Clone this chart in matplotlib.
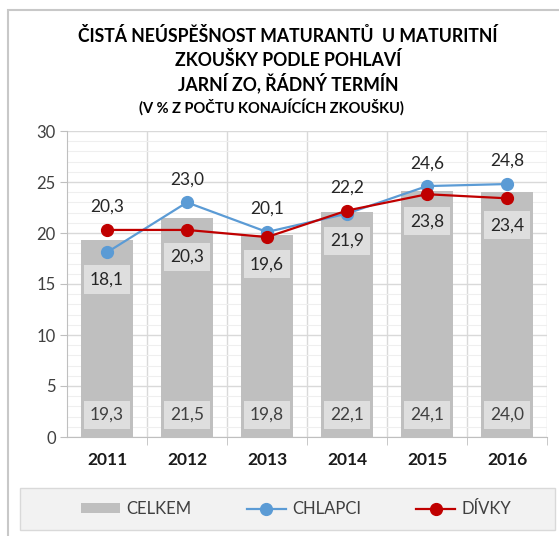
import matplotlib
matplotlib.use("Agg")
import matplotlib.pyplot as plt
from matplotlib.patches import Rectangle
from matplotlib.lines import Line2D
from matplotlib.ticker import MultipleLocator

plt.rcParams['font.family'] = ['Lato', 'DejaVu Sans']

years = ["2011", "2012", "2013", "2014", "2015", "2016"]
celkem = [19.3, 21.5, 19.8, 22.1, 24.1, 24.0]
chlapci = [18.1, 23.0, 20.1, 21.9, 24.6, 24.8]
divky = [20.3, 20.3, 19.6, 22.2, 23.8, 23.4]

title_lines = ["ČISTÁ NEÚSPĚŠNOST MATURANTŮ  U MATURITNÍ",
               "ZKOUŠKY PODLE POHLAVÍ",
               "JARNÍ ZO, ŘÁDNÝ TERMÍN"]
subtitle = "(V % Z POČTU KONAJÍCÍCH ZKOUŠKU)"

W, H, DPI = 559, 536, 100
fig = plt.figure(figsize=(W / DPI, H / DPI), dpi=DPI)
fig.patch.set_facecolor("white")

# outer frame
fig.add_artist(Rectangle((8 / W, -0.05), 1.2, 1 - 10 / H + 0.05, transform=fig.transFigure,
                         fill=False, edgecolor="#c8c8c8", linewidth=1.5))
# legend frame
fig.add_artist(Rectangle((20 / W, 1 - 530 / H), 535 / W, 42 / H, transform=fig.transFigure,
                         facecolor="#f2f2f2", edgecolor="#d9d9d9", linewidth=1.0))

ax = fig.add_axes([67 / W, 1 - 437 / H, (547 - 67) / W, (437 - 131) / H])
x = list(range(len(years)))

ax.set_xlim(-0.5, len(years) - 0.5)
ax.set_ylim(0, 30)

# grid
ax.yaxis.set_major_locator(MultipleLocator(5))
ax.yaxis.set_minor_locator(MultipleLocator(1))
ax.grid(axis="y", which="major", color="#d9d9d9", linewidth=1.0, zorder=0)
ax.grid(axis="y", which="minor", color="#efefef", linewidth=0.8, zorder=0)
for b in [i + 0.5 for i in range(len(years))]:
    ax.axvline(b, color="#d9d9d9", linewidth=1.0, zorder=0)
ax.set_axisbelow(True)

ax.bar(x, celkem, width=0.65, color="#bfbfbf", zorder=2)
ax.plot(x, chlapci, color="#5b9bd5", linewidth=1.6, marker="o", markersize=8.5, zorder=4)
ax.plot(x, divky, color="#c00000", linewidth=1.6, marker="o", markersize=8.5, zorder=5)

fs = 12.5
def fmt(v):
    return f"{v:.1f}".replace(".", ",")

box = dict(boxstyle="square,pad=0.35", facecolor="#dedede", edgecolor="none")
for i in x:
    hi = max(chlapci[i], divky[i])
    lo = min(chlapci[i], divky[i])
    ax.annotate(fmt(hi), (i, hi), xytext=(0, 16.5), textcoords="offset points",
                ha="center", va="center", fontsize=fs, color="#262626", zorder=6)
    ax.annotate(fmt(lo), (i, lo), xytext=(0, -19.5), textcoords="offset points",
                ha="center", va="center", fontsize=fs, color="#262626", bbox=box, zorder=6)
    ax.annotate(fmt(celkem[i]), (i, 0), xytext=(0, 15.8), textcoords="offset points",
                ha="center", va="center", fontsize=fs, color="#404040", bbox=box, zorder=6)

for s in ["top", "right"]:
    ax.spines[s].set_visible(False)
ax.spines["left"].set_color("#bfbfbf")
ax.spines["bottom"].set_color("#bfbfbf")
ax.tick_params(axis="y", which="major", length=5, color="#bfbfbf", labelsize=12,
               labelcolor="#404040", pad=3)
ax.tick_params(axis="y", which="minor", length=0)
ax.set_xticks(x)
ax.set_xticklabels(years, fontsize=12.5, fontweight="bold", color="#1a1a1a")
ax.set_xticks([i + 0.5 for i in range(len(years))], minor=True)
ax.tick_params(axis="x", which="major", length=0, pad=11)
ax.tick_params(axis="x", which="minor", length=6, color="#bfbfbf")

# title
ys = [36, 60, 83]
for t, yy in zip(title_lines, ys):
    fig.text(288 / W, 1 - yy / H, t, ha="center", va="center", fontsize=12.7,
             fontweight="bold", color="#000000")
fig.text(271 / W, 1 - 107 / H, subtitle, ha="center", va="center", fontsize=10.5,
         fontweight="bold", color="#000000")

handles = [Rectangle((0, 0), 1, 1, facecolor="#bfbfbf", edgecolor="none"),
           Line2D([], [], color="#5b9bd5", linewidth=1.6, marker="o", markersize=8.5),
           Line2D([], [], color="#c00000", linewidth=1.6, marker="o", markersize=8.5)]
lfs = 12
leg = fig.legend(handles, ["CELKEM", "CHLAPCI", "DÍVKY"], ncol=3,
                 bbox_to_anchor=(296 / W, 1 - 509 / H), loc="center",
                 frameon=False, fontsize=lfs, handlelength=28 / lfs, handleheight=0.55,
                 handletextpad=4.5 / lfs, columnspacing=40 / lfs,
                 borderaxespad=0, borderpad=0.3)
for t in leg.get_texts():
    t.set_color("#404040")

fig.savefig("out.png", dpi=DPI)
